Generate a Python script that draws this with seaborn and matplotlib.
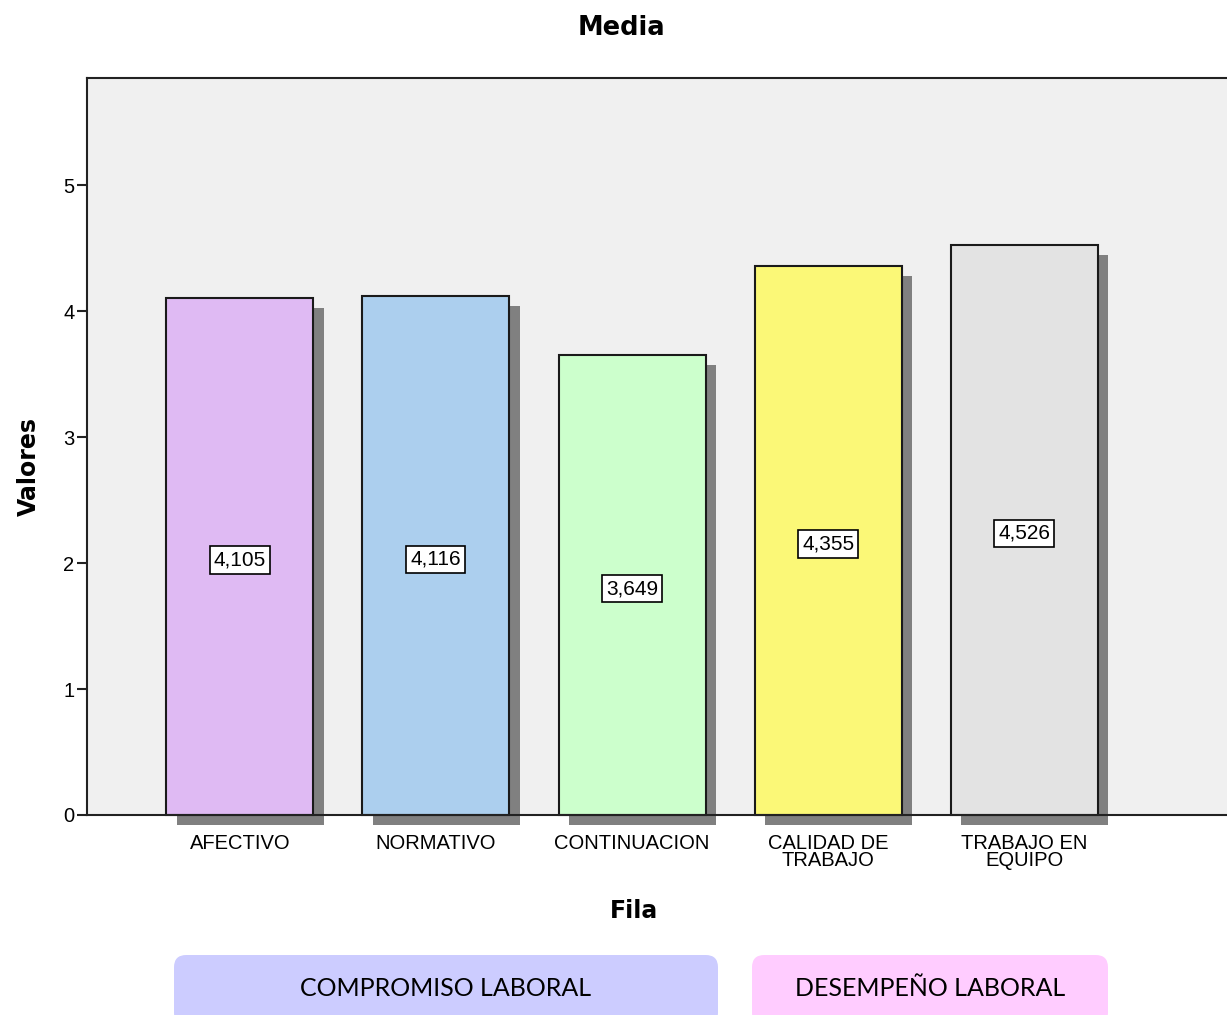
import matplotlib
matplotlib.use("Agg")
import matplotlib.pyplot as plt
import matplotlib.patheffects as pe
from matplotlib.patches import FancyBboxPatch
import seaborn as sns
import pandas as pd

# data
categorias = ["AFECTIVO", "NORMATIVO", "CONTINUACION", "CALIDAD DE\nTRABAJO", "TRABAJO EN\nEQUIPO"]
medias = [4.105, 4.116, 3.649, 4.355, 4.526]
colores = ["#dfbaf3", "#accfee", "#ccffcc", "#fbf877", "#e3e3e3"]
grupos = ["COMPROMISO LABORAL", "DESEMPEÑO LABORAL"]
colores_grupo = ["#ccccff", "#ffccff"]

df = pd.DataFrame({"Fila": categorias, "Valores": medias})

sns.set_style("white")
plt.rcParams["font.family"] = ["Liberation Sans", "DejaVu Sans"]

fig = plt.figure(figsize=(12.27, 10.15), dpi=100)
ax = fig.add_axes([87 / 1227, 200 / 1015, 1 - 87 / 1227 + 0.02, 737 / 1015])
ax.set_facecolor("#f0f0f0")

sns.barplot(data=df, x="Fila", y="Valores", hue="Fila", palette=colores,
            legend=False, width=0.75, ax=ax, edgecolor="#1a1a1a", linewidth=1.5,
            saturation=1)

# drop shadow like the SPSS output
shadow = [pe.SimplePatchShadow(offset=(7.5, -7.2), shadow_rgbFace="#808080", alpha=1.0),
          pe.Normal()]
for p in ax.patches:
    p.set_path_effects(shadow)
    p.set_clip_on(False)

# value labels in the middle of each bar
for i, v in enumerate(medias):
    ax.annotate(f"{v:.3f}".replace(".", ","), (i, v / 2), xytext=(0, -2.5),
                textcoords="offset points", ha="center", va="center",
                fontsize=15, color="black",
                bbox=dict(boxstyle="square,pad=0.2", facecolor="white",
                          edgecolor="black", linewidth=1.2))

ax.set_ylim(0, 5.85)
ax.set_xlim(-0.78, 5.16)
ax.set_yticks([0, 1, 2, 3, 4, 5])
ax.tick_params(axis="both", direction="out", length=7, width=1.5, color="#222222",
               labelsize=14.5, labelcolor="black", left=True, bottom=True)
ax.tick_params(axis="y", pad=2)
ax.tick_params(axis="x", pad=7)
for lab in ax.get_xticklabels():
    lab.set_linespacing(0.85)
for s in ["top", "left", "bottom"]:
    ax.spines[s].set_color("#222222")
    ax.spines[s].set_linewidth(1.5)
ax.spines["right"].set_visible(False)

ax.set_xlabel("Fila", fontsize=17, fontweight="bold", labelpad=21,
              family=["DejaVu Sans"], color="black")
ax.set_ylabel("Valores", fontsize=17, fontweight="bold", labelpad=16,
              family=["DejaVu Sans"], color="black")
ax.xaxis.label.set_x(0.47)
ax.yaxis.label.set_y(0.4735)
fig.text(621 / 1227, 1 - 28 / 1015, "Media", ha="center", va="center",
         fontsize=18.5, fontweight="bold", family=["DejaVu Sans"], color="black")

# group boxes under the chart
cajas = [(174, 718), (752, 1108)]
for (x0, x1), nombre, col in zip(cajas, grupos, colores_grupo):
    caja = FancyBboxPatch((x0 / 1227, -10 / 1015), (x1 - x0) / 1227, 70 / 1015,
                          boxstyle="round,pad=0,rounding_size=0.01",
                          transform=fig.transFigure, facecolor=col,
                          edgecolor="none", mutation_aspect=1227 / 1015)
    fig.patches.append(caja)
    fig.text((x0 + x1) / 2 / 1227, 1 - 989 / 1015, nombre, ha="center", va="center",
             fontsize=18, family=["Lato", "DejaVu Sans"], color="black")

fig.savefig("out.png", dpi=100, facecolor="white")
